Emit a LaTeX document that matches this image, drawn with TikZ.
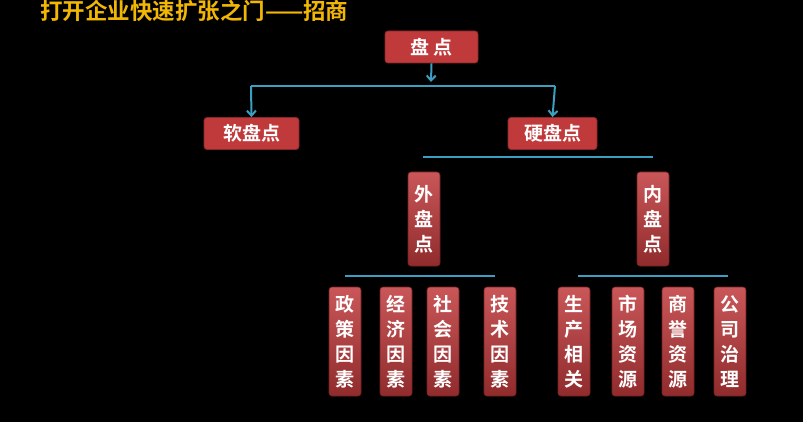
\documentclass[tikz,border=0pt]{standalone}
\usepackage{fontspec}
\newfontfamily\cjk{Noto Sans CJK SC}[BoldFont={Noto Sans CJK SC Bold}]
\usetikzlibrary{arrows.meta}
\definecolor{ln}{HTML}{3A9FC0}
\definecolor{bx}{HTML}{C0393B}
\definecolor{ttl}{HTML}{F2B705}
\tikzset{
 hbox/.style={draw=bx!70!black,line width=0.8pt,rounded corners=3pt,fill=bx,text=white,font=\cjk\bfseries\fontsize{19}{19}\selectfont,inner sep=0pt,minimum height=32pt},
 vbox/.style={draw=bx!60!black,line width=0.6pt,rounded corners=3pt,top color=bx!85!white,bottom color=bx!75!black,text=white,font=\cjk\bfseries\fontsize{19}{25}\selectfont,inner sep=0pt,minimum width=32pt,align=center},
 conn/.style={draw=ln,line width=2pt},
 arr/.style={conn,-{Straight Barb[length=5pt,width=9pt]}}
}
\begin{document}
\begin{tikzpicture}[x=1pt,y=-1pt]
\fill[black] (0,0) rectangle (803,422);
\node[anchor=west,text=ttl,font=\cjk\bfseries\fontsize{22.5}{22.5}\selectfont,inner sep=0pt] (title) at (40,11) {打开企业快速扩张之门——招商};
\node[hbox,minimum width=93pt] (root) at (431.5,47) {盘\ 点};
\node[hbox,minimum width=95pt] (soft) at (251.5,133.5) {软盘点};
\node[hbox,minimum width=89pt] (hard) at (552.5,133.5) {硬盘点};
\draw[arr] (root.south) -- (431,82);
\draw[conn] (251,86) -- (555,86);
\draw[arr] (251,86) -- (soft.north);
\draw[arr] (555,86) -- (hard.north);
\coordinate (h1) at (423,157); \coordinate (h2) at (653,157);
\draw[conn] (h1) -- (h2);
\node[vbox,minimum height=94pt] (out) at (424,219) {外\\盘\\点};
\node[vbox,minimum height=94pt] (in) at (653,219) {内\\盘\\点};
\coordinate (a1) at (345,276); \coordinate (a2) at (495,276);
\coordinate (b1) at (578,276); \coordinate (b2) at (728,276);
\draw[conn] (a1) -- (a2);
\draw[conn] (b1) -- (b2);
\foreach \x/\t/\n in {345/政\\策\\因\\素/c1,396/经\\济\\因\\素/c2,443/社\\会\\因\\素/c3,500/技\\术\\因\\素/c4,574/生\\产\\相\\关/c5,628/市\\场\\资\\源/c6,678/商\\誉\\资\\源/c7,730/公\\司\\治\\理/c8}{
  \node[vbox,minimum height=109pt] (\n) at (\x,341.5) {\t};
}
\end{tikzpicture}
\end{document}
